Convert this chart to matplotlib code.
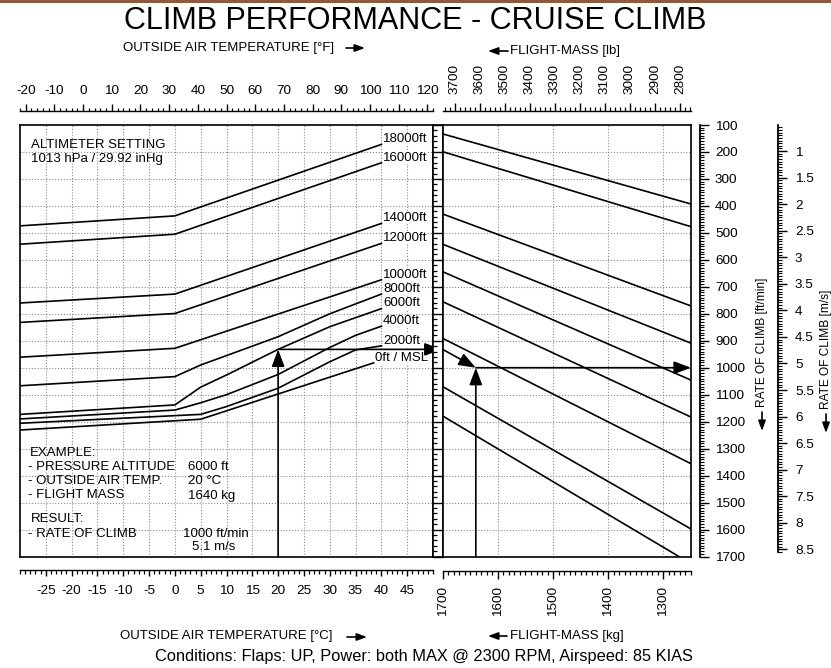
import numpy as np
import matplotlib
matplotlib.use("Agg")
import matplotlib.pyplot as plt
from matplotlib.ticker import MultipleLocator, FixedLocator
from matplotlib.patches import FancyArrowPatch, Rectangle

plt.rcParams['font.family'] = ['Liberation Sans', 'DejaVu Sans']
plt.rcParams['axes.unicode_minus'] = False

# ---------------- data ----------------
oat_c_ticks = [-25, -20, -15, -10, -5, 0, 5, 10, 15, 20, 25, 30, 35, 40, 45]
oat_f_ticks = [-20, -10, 0, 10, 20, 30, 40, 50, 60, 70, 80, 90, 100, 110, 120]
mass_kg_ticks = [1700, 1600, 1500, 1400, 1300]
mass_lb_ticks = [3700, 3600, 3500, 3400, 3300, 3200, 3100, 3000, 2900, 2800]
roc_fpm_ticks = [100, 200, 300, 400, 500, 600, 700, 800, 900, 1000,
                 1100, 1200, 1300, 1400, 1500, 1600, 1700]
roc_ms_ticks = [1, 1.5, 2, 2.5, 3, 3.5, 4, 4.5, 5, 5.5, 6, 6.5, 7, 7.5, 8, 8.5]

oat_range = (-30, 50)          # deg C
mass_range = (1700, 1250)      # kg
roc_range = (1700, 100)        # ft/min (downwards increasing)

# pressure-altitude curves: OAT [deg C] -> rate of climb [ft/min]
alt_18000_oat = [-30, 0, 40]
alt_18000_roc = [474, 437, 172]
alt_16000_oat = [-30, 0, 40]
alt_16000_roc = [542, 505, 240]
alt_14000_oat = [-30, 0, 40]
alt_14000_roc = [760, 727, 465]
alt_12000_oat = [-30, 0, 40]
alt_12000_roc = [832, 799, 539]
alt_10000_oat = [-30, 0, 40]
alt_10000_roc = [961, 928, 674]
alt_8000_oat = [-30, 0, 5, 10, 20, 30, 40]
alt_8000_roc = [1067, 1033, 990, 955, 885, 800, 727]
alt_6000_oat = [-30, 0, 5, 10, 20, 30, 40]
alt_6000_roc = [1173, 1138, 1072, 1027, 932, 848, 781]
alt_4000_oat = [-30, 0, 5, 10, 20, 25, 30, 35, 40]
alt_4000_roc = [1190, 1157, 1130, 1100, 1025, 975, 925, 880, 846]
alt_2000_oat = [-30, 5, 10, 20, 25, 30, 35, 40]
alt_2000_roc = [1206, 1173, 1144, 1076, 1027, 978, 934, 919]
alt_0_oat = [-30, 5, 38.5]
alt_0_roc = [1231, 1191, 982]

altitude_curves = [
    ("18000ft", alt_18000_oat, alt_18000_roc),
    ("16000ft", alt_16000_oat, alt_16000_roc),
    ("14000ft", alt_14000_oat, alt_14000_roc),
    ("12000ft", alt_12000_oat, alt_12000_roc),
    ("10000ft", alt_10000_oat, alt_10000_roc),
    ("8000ft", alt_8000_oat, alt_8000_roc),
    ("6000ft", alt_6000_oat, alt_6000_roc),
    ("4000ft", alt_4000_oat, alt_4000_roc),
    ("2000ft", alt_2000_oat, alt_2000_roc),
    ("0ft / MSL", alt_0_oat, alt_0_roc),
]

# flight-mass guide lines: (mass start, roc start) -> (mass end, roc end)
guide_mass_start = [1700, 1700, 1700, 1700, 1700, 1700, 1700, 1700, 1700]
guide_roc_start = [133, 199, 430, 542, 644, 755, 891, 1070, 1179]
guide_mass_end = [1250, 1250, 1250, 1250, 1250, 1250, 1250, 1250, 1272]
guide_roc_end = [393, 477, 771, 909, 1046, 1183, 1356, 1598, 1700]

# worked example
example_oat = 20
example_mass = 1640
example_result_roc = 1000

FPM_PER_MS = 196.85
LB_PER_KG = 2.20462


def c_to_f(c):
    return c * 9 / 5 + 32


# ---------------- figure / helpers ----------------
W, H = 831, 668
fig = plt.figure(figsize=(W / 100, H / 100), dpi=100)
fig.patch.set_facecolor('white')


def px_rect(x0, y0, x1, y1):
    return [x0 / W, 1 - y1 / H, (x1 - x0) / W, (y1 - y0) / H]


def ftext(x, y, s, **kw):
    kw.setdefault('fontsize', 9.7)
    kw.setdefault('va', 'center')
    return fig.text(x / W, 1 - y / H, s, **kw)


def farrow(x0, y0, x1, y1, scale=10):
    a = FancyArrowPatch((x0 / W, 1 - y0 / H), (x1 / W, 1 - y1 / H),
                        transform=fig.transFigure,
                        arrowstyle='-|>,head_length=0.6,head_width=0.22',
                        mutation_scale=scale, lw=1.2, color='k',
                        shrinkA=0, shrinkB=0)
    fig.add_artist(a)


def only_spines(ax, keep):
    for name, sp in ax.spines.items():
        sp.set_visible(name in keep)
        sp.set_linewidth(1.0)
    ax.patch.set_alpha(0)


grid_kw = dict(color='#8a8a8a', linestyle=(0, (1, 1.6)), linewidth=0.8)
arrow_kw = dict(arrowstyle='-|>,head_length=0.8,head_width=0.3',
                mutation_scale=13, lw=1.2, color='k', shrinkA=0, shrinkB=0)

# brown border at top
fig.add_artist(Rectangle((0, 1 - 3 / H), 1, 3 / H, transform=fig.transFigure,
                         color='#8c5a3c', lw=0))

# ---------------- left panel (OAT) ----------------
axL = fig.add_axes(px_rect(20, 125, 433, 556.5))
axL.set_xlim(*oat_range)
axL.set_ylim(*roc_range)
axL.set_xticks(oat_c_ticks)
axL.set_yticks(roc_fpm_ticks[1:-1])
axL.tick_params(length=0, labelbottom=False, labelleft=False)
axL.grid(True, **grid_kw)
axL.set_axisbelow(True)
for sp in axL.spines.values():
    sp.set_linewidth(1.2)

for label, oat, roc in altitude_curves:
    axL.plot(oat, roc, color='k', lw=1.2, solid_joinstyle='round', zorder=3)
    axL.annotate(label, xy=(oat[-1], roc[-1]), xytext=(1.2, 1.6),
                 textcoords='offset points', ha='left', va='baseline',
                 fontsize=9.5, zorder=4,
                 bbox=dict(fc='white', ec='none', pad=0.2))

# ---------------- strip between panels ----------------
axS = fig.add_axes(px_rect(433, 125, 442.7, 556.5))
axS.set_ylim(*roc_range)
axS.set_xticks([])
axS.set_yticks(roc_fpm_ticks)
axS.yaxis.set_minor_locator(MultipleLocator(20))
axS.tick_params(axis='y', which='major', direction='in', length=7, width=1,
                labelleft=False)
axS.tick_params(axis='y', which='minor', direction='in', length=2.6, width=0.9)
for sp in axS.spines.values():
    sp.set_linewidth(1.2)

# ---------------- right panel (mass) ----------------
axR = fig.add_axes(px_rect(442.7, 125, 691, 556.5))
axR.set_xlim(*mass_range)
axR.set_ylim(*roc_range)
axR.set_xticks(mass_kg_ticks[1:])
axR.set_yticks(roc_fpm_ticks[1:-1])
axR.tick_params(length=0, labelbottom=False, labelleft=False)
axR.grid(True, **grid_kw)
axR.set_axisbelow(True)
for sp in axR.spines.values():
    sp.set_linewidth(1.2)

for m0, r0, m1, r1 in zip(guide_mass_start, guide_roc_start,
                          guide_mass_end, guide_roc_end):
    axR.plot([m0, m1], [r0, r1], color='k', lw=1.2, zorder=3)

# ---------------- worked example ----------------
mid_roc = float(np.interp(example_oat, alt_6000_oat, alt_6000_roc))
axL.annotate('', xy=(example_oat, mid_roc), xytext=(example_oat, roc_range[0]),
             arrowprops=arrow_kw, zorder=5)
axL.annotate('', xy=(0.9, mid_roc), xycoords=axS.get_yaxis_transform(),
             xytext=(example_oat, mid_roc), textcoords='data',
             arrowprops=arrow_kw, annotation_clip=False, zorder=5)
axR.annotate('', xy=(example_mass, example_result_roc),
             xytext=(mass_range[0], mid_roc), arrowprops=arrow_kw, zorder=5)
axR.annotate('', xy=(example_mass, example_result_roc),
             xytext=(example_mass, roc_range[0]), arrowprops=arrow_kw, zorder=5)
axR.annotate('', xy=(mass_range[1], example_result_roc),
             xytext=(example_mass, example_result_roc), arrowprops=arrow_kw,
             zorder=5)

# ---------------- top scales ----------------
axF = fig.add_axes(px_rect(20, 110.5, 433, 112))
axF.set_xlim(c_to_f(oat_range[0]), c_to_f(oat_range[1]))
axF.set_yticks([])
axF.xaxis.set_ticks_position('top')
axF.set_xticks(oat_f_ticks)
axF.xaxis.set_minor_locator(MultipleLocator(2))
axF.tick_params(axis='x', which='major', direction='out', length=5, width=1,
                pad=4.5, labelsize=9.7)
axF.tick_params(axis='x', which='minor', direction='out', length=2.5, width=0.9)
only_spines(axF, ['top'])

axLB = fig.add_axes(px_rect(442.7, 110.5, 691, 112))
axLB.set_xlim(mass_range[0] * LB_PER_KG, mass_range[1] * LB_PER_KG)
axLB.set_yticks([])
axLB.xaxis.set_ticks_position('top')
axLB.set_xticks(mass_lb_ticks)
axLB.xaxis.set_minor_locator(MultipleLocator(20))
axLB.tick_params(axis='x', which='major', direction='out', length=6, width=1,
                 pad=6, labelsize=9.7, labelrotation=90)
axLB.tick_params(axis='x', which='minor', direction='out', length=3, width=0.9)
only_spines(axLB, ['top'])

# ---------------- bottom scales ----------------
axC = fig.add_axes(px_rect(20, 568.5, 433, 570))
axC.set_xlim(*oat_range)
axC.set_yticks([])
axC.set_xticks(oat_c_ticks)
axC.xaxis.set_minor_locator(MultipleLocator(1))
axC.tick_params(axis='x', which='major', direction='out', length=4.5, width=1,
                pad=6.5, labelsize=9.7)
axC.tick_params(axis='x', which='minor', direction='out', length=2.6, width=0.9)
only_spines(axC, ['bottom'])

axKG = fig.add_axes(px_rect(442.7, 569.5, 691, 571))
axKG.set_xlim(*mass_range)
axKG.set_yticks([])
axKG.set_xticks(mass_kg_ticks)
axKG.xaxis.set_minor_locator(MultipleLocator(10))
axKG.tick_params(axis='x', which='major', direction='out', length=6, width=1,
                 pad=5, labelsize=9.7, labelrotation=90)
axKG.tick_params(axis='x', which='minor', direction='out', length=3, width=0.9)
only_spines(axKG, ['bottom'])

# ---------------- right-hand rate-of-climb scales ----------------
axFPM = fig.add_axes(px_rect(699.2, 125, 699.7, 556.5))
axFPM.set_ylim(*roc_range)
axFPM.set_xticks([])
axFPM.yaxis.set_ticks_position('right')
axFPM.set_yticks(roc_fpm_ticks)
axFPM.yaxis.set_minor_locator(MultipleLocator(10))
axFPM.tick_params(axis='y', which='major', direction='out', length=6.5, width=1,
                  pad=4.5, labelsize=9.7)
axFPM.tick_params(axis='y', which='minor', direction='out', length=3, width=0.8)
only_spines(axFPM, ['right'])
axFPM.spines['right'].set_linewidth(1.3)

axMS = fig.add_axes(px_rect(777.8, 125, 778.3, 556.5))
axMS.set_ylim(roc_range[0] / FPM_PER_MS, roc_range[1] / FPM_PER_MS)
axMS.set_xticks([])
axMS.yaxis.set_ticks_position('right')
axMS.set_yticks(roc_ms_ticks)
axMS.set_yticklabels([f"{v:g}" for v in roc_ms_ticks])
axMS.yaxis.set_minor_locator(FixedLocator(np.arange(0.55, 8.56, 0.05)))
axMS.tick_params(axis='y', which='major', direction='out', length=6.5, width=1,
                 pad=5.5, labelsize=9.7)
axMS.tick_params(axis='y', which='minor', direction='out', length=3, width=0.8)
only_spines(axMS, ['right'])
axMS.spines['right'].set_bounds(roc_range[1] / FPM_PER_MS, 8.55)
axMS.spines['right'].set_linewidth(1.3)

# ---------------- texts ----------------
ftext(415, 21, "CLIMB PERFORMANCE - CRUISE CLIMB", fontsize=22, ha='center')
ftext(123, 48, "OUTSIDE AIR TEMPERATURE [°F]", fontsize=9.5, ha='left')
farrow(346, 48, 365, 48)
ftext(510, 51, "FLIGHT-MASS [lb]", fontsize=9.5, ha='left')
farrow(508, 51, 488, 51)

ftext(120, 636, "OUTSIDE AIR TEMPERATURE [°C]", fontsize=9.5, ha='left')
farrow(347, 637, 367, 637)
ftext(510, 636, "FLIGHT-MASS [kg]", fontsize=9.5, ha='left')
farrow(507, 636, 488, 636)
ftext(424, 657, "Conditions: Flaps: UP, Power: both MAX @ 2300 RPM, Airspeed: 85 KIAS",
      fontsize=11.8, ha='center')

ftext(762, 342, "RATE OF CLIMB [ft/min]", fontsize=8.6, ha='center', rotation=90)
farrow(762, 412, 762, 431)
ftext(826, 349, "RATE OF CLIMB [m/s]", fontsize=8.6, ha='center', rotation=90)
farrow(826, 414, 826, 433)

ftext(31, 145, "ALTIMETER SETTING", fontsize=9.5, ha='left')
ftext(31, 159, "1013 hPa / 29.92 inHg", fontsize=9.5, ha='left')

ftext(30, 453.5, "EXAMPLE:", fontsize=9.5, ha='left')
ftext(28, 467.5, "- PRESSURE ALTITUDE", fontsize=9.5, ha='left')
ftext(188, 467.5, "6000 ft", fontsize=9.5, ha='left')
ftext(28, 481.5, "- OUTSIDE AIR TEMP.", fontsize=9.5, ha='left')
ftext(188, 481.5, "20 °C", fontsize=9.5, ha='left')
ftext(28, 495.5, "- FLIGHT MASS", fontsize=9.5, ha='left')
ftext(188, 495.5, "1640 kg", fontsize=9.5, ha='left')
ftext(31, 519, "RESULT:", fontsize=9.5, ha='left')
ftext(28, 534, "- RATE OF CLIMB", fontsize=9.5, ha='left')
ftext(183, 534, "1000 ft/min", fontsize=9.5, ha='left')
ftext(192, 547, "5.1 m/s", fontsize=9.5, ha='left')

fig.savefig("out.png", dpi=100, facecolor='white')
